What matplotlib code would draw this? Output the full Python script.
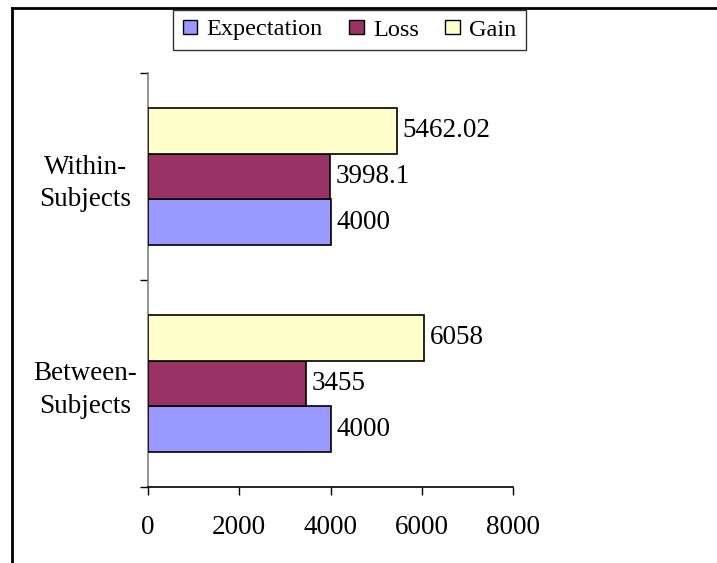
import matplotlib
matplotlib.use("Agg")
import matplotlib.pyplot as plt
from matplotlib.lines import Line2D
from matplotlib.patches import Patch

plt.rcParams['font.family'] = ['Liberation Serif', 'DejaVu Serif']

categories = ["Between-\nSubjects", "Within-\nSubjects"]
series_names = ["Expectation", "Loss", "Gain"]
expectation = [4000, 4000]
loss = [3455, 3998.1]
gain = [6058, 5462.02]
value_labels = [["4000", "4000"], ["3455", "3998.1"], ["6058", "5462.02"]]
x_ticks = [0, 2000, 4000, 6000, 8000]

colors = ["#9999FF", "#993366", "#FFFFCC"]

W, H = 717, 563
fig = plt.figure(figsize=(W / 100, H / 100), dpi=100)
ax = fig.add_axes([148 / W, 1 - 487 / H, (513 - 148) / W, (487 - 73) / H])

fs = 19.5
bar_h = 0.22
offsets = [-bar_h, 0.0, bar_h]
ypos = list(range(len(categories)))
for vals, labs, off, col, name in zip([expectation, loss, gain], value_labels,
                                       offsets, colors, series_names):
    ys = [y + off for y in ypos]
    ax.barh(ys, vals, height=bar_h, color=col, edgecolor="black",
            linewidth=1.2, label=name, zorder=3)
    for y, v, t in zip(ys, vals, labs):
        ax.annotate(t, (v, y), xytext=(4, 0), textcoords="offset points",
                    va="center", ha="left", fontsize=fs)

ax.set_xlim(0, 8000)
ax.set_ylim(-0.5, len(categories) - 0.5)
ax.set_xticks(x_ticks)
ax.set_xticklabels([str(t) for t in x_ticks], fontsize=fs)
ax.tick_params(axis="x", direction="out", length=6, width=1, pad=14, color="black")

ax.set_yticks(ypos)
ax.set_yticklabels(categories, fontsize=fs, ha="center", multialignment="center",
                   linespacing=1.4)
ax.tick_params(axis="y", which="major", length=0, pad=45)
ax.set_yticks([-0.5, 0.5, 1.5], minor=True)
ax.tick_params(axis="y", which="minor", direction="out", length=6, width=1, color="black")

for s in ["top", "right"]:
    ax.spines[s].set_visible(False)
ax.spines["left"].set_color("#808080")
ax.spines["left"].set_linewidth(1.2)
ax.spines["bottom"].set_color("black")
ax.spines["bottom"].set_linewidth(1.2)

lfs = 17.5
handles = [Patch(facecolor=c, edgecolor="black", linewidth=1, label=n)
           for c, n in zip(colors, series_names)]
leg = fig.legend(handles=handles, loc="center", ncol=3,
                 bbox_to_anchor=(349.5 / W, 1 - 30 / H), fontsize=lfs,
                 frameon=True, fancybox=False, handlelength=0.6,
                 handleheight=0.55, handletextpad=0.37, columnspacing=1.1,
                 borderpad=0.4, borderaxespad=0)
leg.get_frame().set_edgecolor("black")
leg.get_frame().set_linewidth(1)

# chart border along top and left edges
fig.add_artist(Line2D([11.5 / W, 1], [1 - 7.5 / H, 1 - 7.5 / H],
                      transform=fig.transFigure, color="black", linewidth=2))
fig.add_artist(Line2D([11.5 / W, 11.5 / W], [0, 1 - 7.5 / H],
                      transform=fig.transFigure, color="black", linewidth=2))

fig.savefig("out.png", dpi=100)
